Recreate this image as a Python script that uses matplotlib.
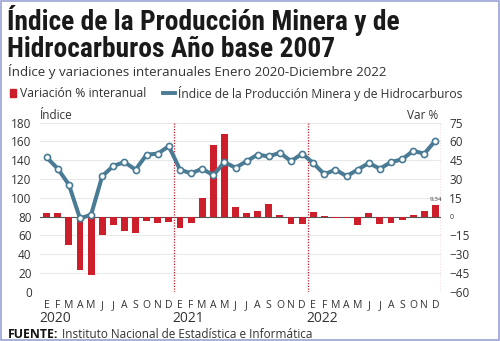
import matplotlib.pyplot as plt
from matplotlib import font_manager as fm
from matplotlib.patches import Rectangle
from matplotlib.lines import Line2D
import numpy as np

# Data (Jan 2020 - Dec 2022)
months = ["E", "F", "M", "A", "M", "J", "J", "A", "S", "O", "N", "D"] * 3
years = ["2020", "2021", "2022"]

indice = [143, 131, 114, 78, 82, 123, 134, 138, 130, 146, 147, 155,
          130, 126, 131, 124, 138, 132, 139, 146, 144, 148, 139, 147,
          137, 125, 130, 123, 130, 137, 131, 138, 141, 150, 147, 161]

variacion = [3, 3, -22.4, -42.9, -46.3, -14.9, -6.6, -11.7, -13, -3.4, -5.4, -4.2,
             -9, -5.4, 14.9, 57.5, 66.3, 7.4, 3, 4.8, 10.4, 1, -5.6, -6.1,
             3.7, 0.3, -1, -1, -6.4, 3, -6.1, -5, -2.4, 1.6, 4.8, 9.34]

left_ticks = [0, 20, 40, 60, 80, 100, 120, 140, 160, 180]
right_ticks = [-60, -45, -30, -15, 0, 15, 30, 45, 60, 75]

RED = "#cc1f2b"
BLUE = "#4a7b94"
TXT = "#333333"

names = {f.name for f in fm.fontManager.ttflist}
title_font = "Roboto"
for cand in ["Roboto Condensed", "Liberation Sans Narrow", "DejaVu Sans Condensed"]:
    if cand in names:
        title_font = cand
        break
body = "Open Sans"
plt.rcParams['font.family'] = [body, 'DejaVu Sans']

x = np.arange(len(indice))

fig = plt.figure(figsize=(5, 3.41), dpi=100)
ax = fig.add_axes([0.08, 0.1446, 0.802, 0.4956])
ax2 = ax.twinx()

# bars on the var % scale (right side)
ax.bar(x, variacion, width=0.62, color=RED, zorder=2)
ax.set_ylim(-60, 75)
ax.set_yticks(right_ticks)
ax.yaxis.tick_right()
ax.set_xlim(-0.6, 35.5)
ax.tick_params(axis='y', length=0, labelsize=8.5, labelcolor=TXT, pad=6)
for lab in ax.get_yticklabels():
    if lab.get_text() == "0":
        lab.set_fontsize(5)
ax.axhline(0, color="#555555", lw=0.8, zorder=1)
for v in [11.5, 23.5, 35.5]:
    ax.axvline(v, color=RED, lw=0.9, ls=(0, (1, 1.2)), zorder=1)
ax.text(35, variacion[-1] + 2, "9.34", ha='center', va='bottom', fontsize=4.5, color=TXT)

# index line (left side)
ax2.plot(x, indice, color=BLUE, lw=2.9, marker='o', ms=4.4,
         mfc='white', mec=BLUE, mew=1.2, zorder=3)
ax2.set_ylim(0, 180)
ax2.set_yticks(left_ticks)
ax2.yaxis.tick_left()
ax2.tick_params(axis='y', length=0, labelsize=8.5, labelcolor=TXT, pad=6)
for t in left_ticks:
    ax.axhline(-60 + t * 0.75, color="#e8e8e8", lw=0.7, zorder=0)

for a in (ax, ax2):
    for s in a.spines.values():
        s.set_visible(False)

ax.set_xticks(x)
ax.set_xticklabels(months)
ax.tick_params(axis='x', length=0, labelsize=7.5, labelcolor=TXT, pad=6)
for i, yr in enumerate(years):
    ax.text(i * 12 - 0.65, -0.112, yr, transform=ax.get_xaxis_transform(),
            ha='left', va='top', fontsize=10, color=TXT)

# axis captions
fig.text(0.08, 0.643, "Índice", fontsize=8.5, color=TXT, ha='left', va='bottom')
fig.text(0.876, 0.643, "Var %", fontsize=8.5, color=TXT, ha='right', va='bottom')

# titles
fig.text(0.014, 0.985, "Índice de la Producción Minera y de\nHidrocarburos Año base 2007",
         family=title_font, fontweight='bold', fontsize=19.8, color="#1a1a1a",
         ha='left', va='top', linespacing=0.98)
fig.text(0.016, 0.79, "Índice y variaciones interanuales Enero 2020-Diciembre 2022",
         fontsize=9.6, color=TXT, ha='left', va='center')

# legend drawn by hand so the square and the line keep their own sizes
ly = 0.727
fig.patches.append(Rectangle((0.02, ly - 0.011), 0.011, 0.022, transform=fig.transFigure,
                             color=RED))
fig.text(0.04, ly, "Variación % interanual", fontsize=8.7, color=TXT, ha='left', va='center')
fig.lines.append(Line2D([0.326, 0.35], [ly, ly], transform=fig.transFigure,
                        color=BLUE, lw=2.8))
fig.text(0.356, ly, "Índice de la Producción Minera y de Hidrocarburos", fontsize=8.7,
         color=TXT, ha='left', va='center')

fig.text(0.016, 0.018, "FUENTE:", fontsize=8.8, fontweight='bold', color="#111111",
         ha='left', va='center')
fig.text(0.124, 0.018, "Instituto Nacional de Estadística e Informática", fontsize=8.5,
         color=TXT, ha='left', va='center')

fig.patches.append(Rectangle((0.001, 0.002), 0.997, 0.996, transform=fig.transFigure,
                             fill=False, ec="#9aa3d6", lw=1.2))

fig.savefig("out.png", dpi=100)
